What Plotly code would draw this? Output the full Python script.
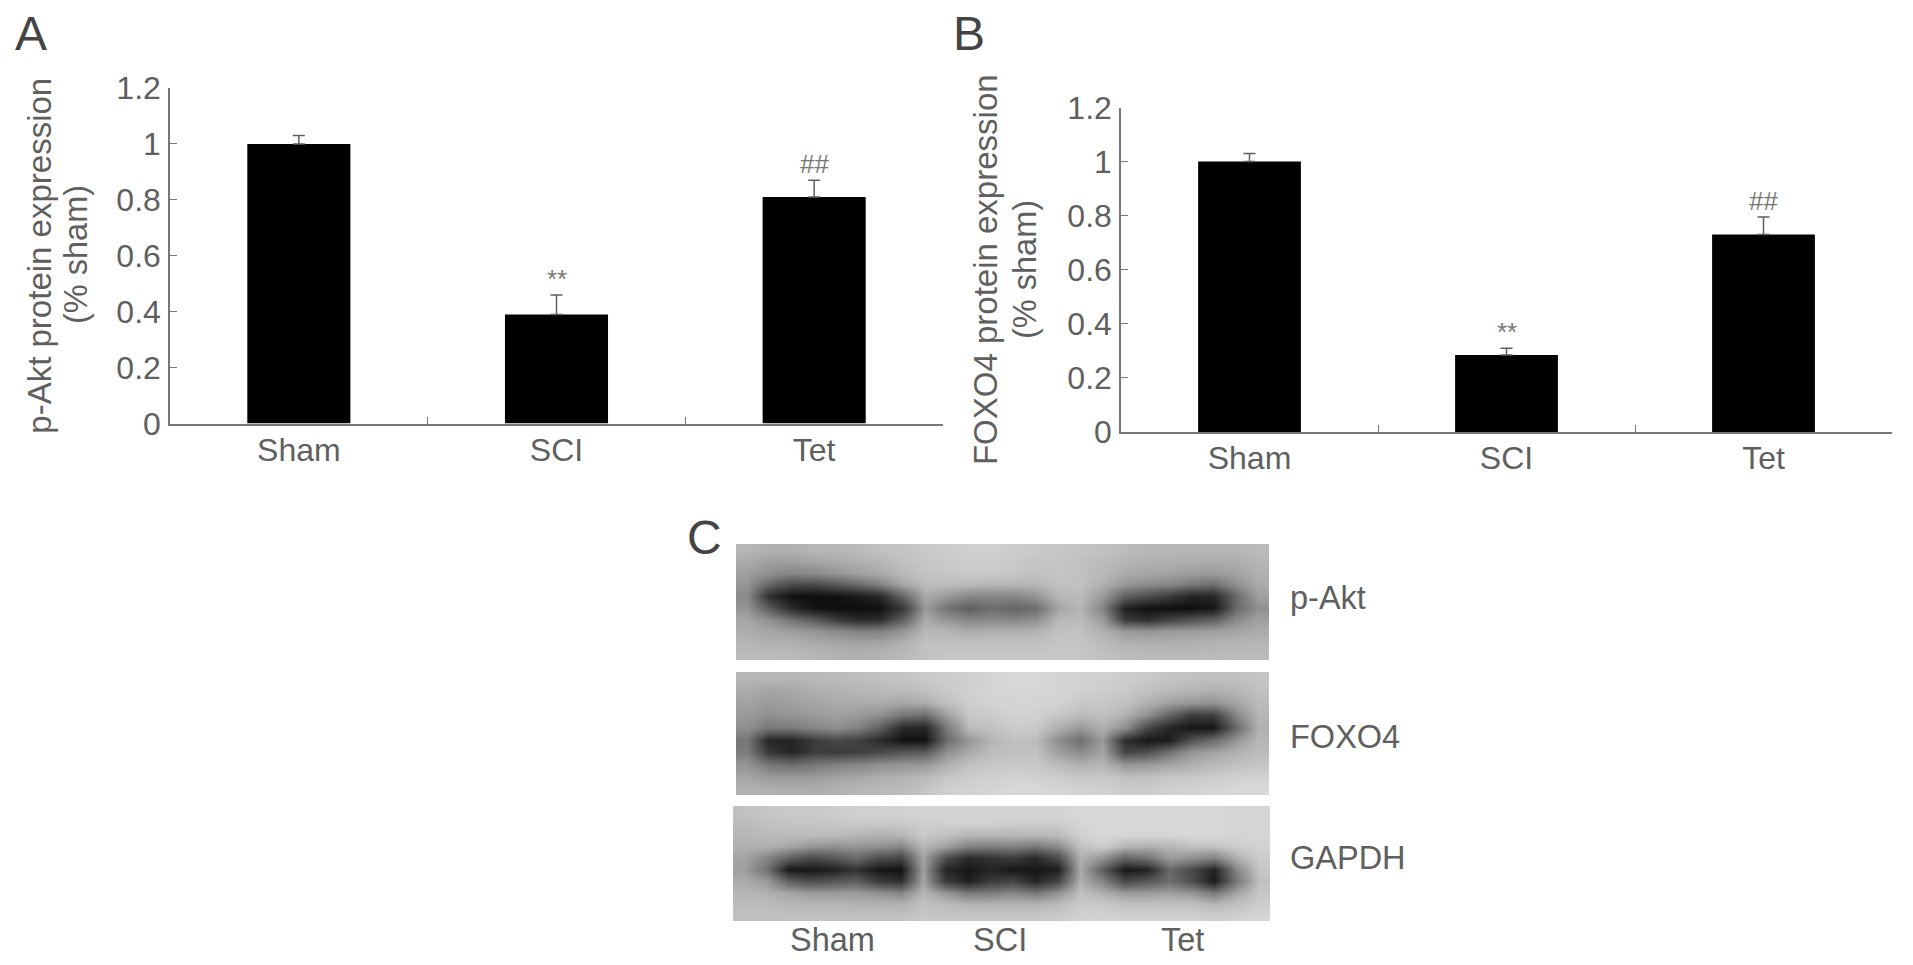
import plotly.graph_objects as go

W = 1913
H = 965
FONT = "Liberation Sans"
GREY = "#5f5f5f"

# Bar data
groups = ["Sham", "SCI", "Tet"]
akt_values = [1.0, 0.39, 0.81]
akt_err = [0.03, 0.07, 0.06]
akt_marks = ["", "**", "##"]
foxo_values = [1.0, 0.285, 0.73]
foxo_err = [0.03, 0.025, 0.065]
foxo_marks = ["", "**", "##"]
y_ticks = [0, 0.2, 0.4, 0.6, 0.8, 1, 1.2]
y_tick_labels = ["0", "0.2", "0.4", "0.6", "0.8", "1", "1.2"]

# Blot grey levels, 10 rows x 24 columns
blot_akt = [
    [195,190,190,195,195,200,205,208,212,215,218,218,215,212,210,208,205,200,195,195,195,195,195,200],
    [185,175,175,180,185,190,195,205,210,212,215,215,212,208,208,205,200,195,190,190,188,186,188,195],
    [175,160,150,155,165,175,185,198,208,210,212,212,210,205,208,205,198,185,180,178,172,170,178,190],
    [165,115,85,85,100,120,145,180,200,200,198,195,195,195,205,205,190,165,155,150,135,125,160,185],
    [155,55,25,20,25,35,50,115,185,170,150,150,150,165,195,200,170,110,90,70,45,45,120,175],
    [165,105,50,25,22,20,25,65,170,130,110,125,115,125,180,195,150,40,25,22,22,30,120,160],
    [180,160,130,105,70,50,55,110,185,165,150,155,150,160,195,200,170,70,55,80,95,110,155,175],
    [188,180,175,165,155,145,145,165,195,195,185,190,190,192,205,205,190,170,165,170,172,175,180,185],
    [195,190,190,185,180,178,180,190,205,205,205,205,205,205,208,208,200,190,190,190,190,192,195,195],
    [200,200,198,195,192,190,192,198,205,210,210,210,210,210,210,210,205,200,198,198,198,198,200,200],
]
blot_foxo = [
    [195,195,195,198,200,202,205,208,212,215,218,222,225,225,222,220,218,215,212,208,205,205,205,208],
    [185,180,182,188,192,195,198,200,205,212,218,222,222,222,222,218,215,212,205,198,195,190,195,205],
    [178,170,175,180,185,185,185,180,185,205,215,220,222,222,220,212,210,205,190,175,165,160,180,200],
    [170,160,165,170,175,170,160,135,125,175,210,215,220,218,210,200,205,190,160,115,70,75,150,195],
    [160,135,140,150,160,145,110,50,45,140,200,205,215,212,190,170,190,160,85,45,30,30,120,190],
    [135,45,45,70,85,75,50,25,25,125,165,195,205,200,160,125,170,55,30,35,95,125,165,195],
    [140,65,45,70,70,75,85,100,105,160,185,200,205,205,175,155,180,80,90,130,165,178,190,200],
    [165,135,125,135,145,150,160,165,170,190,205,210,212,210,200,190,195,165,170,180,190,198,205,208],
    [180,172,170,172,178,182,188,192,198,210,215,218,220,218,215,210,212,205,205,210,212,215,218,220],
    [192,190,188,188,192,195,198,200,208,218,220,222,225,225,222,220,218,215,215,218,220,222,225,225],
]
blot_gapdh = [
    [205,210,212,212,215,218,218,220,222,222,222,222,222,222,222,225,225,225,225,225,225,225,222,222],
    [200,205,208,208,210,212,212,212,215,218,218,218,215,215,215,222,225,225,225,225,225,225,222,222],
    [195,200,200,200,200,195,190,195,212,205,195,195,195,195,200,218,225,222,222,222,225,225,222,222],
    [190,190,180,165,160,165,160,150,195,175,145,140,145,135,155,205,215,195,190,195,205,205,215,220],
    [180,150,110,85,100,120,90,80,180,90,50,60,70,50,85,190,165,115,130,170,160,145,190,215],
    [175,130,30,30,40,60,30,25,175,45,30,45,30,30,35,185,110,30,40,120,85,40,150,210],
    [185,170,110,90,100,110,70,55,180,70,40,70,80,45,80,190,150,85,100,125,90,35,135,205],
    [195,190,180,170,170,170,160,150,195,165,135,140,150,135,160,205,190,170,170,175,165,135,180,210],
    [200,200,195,195,195,192,192,192,205,200,195,192,195,192,200,212,212,205,205,205,205,195,205,215],
    [205,205,205,205,205,205,205,205,210,210,210,210,210,210,212,218,220,218,218,218,218,215,218,222],
]
blot_names = ["p-Akt", "FOXO4", "GAPDH"]


def dom_x(left, right):
    return [left / W, right / W]


def dom_y(top, bottom):
    return [1 - bottom / H, 1 - top / H]


fig = go.Figure()
annotations = []


def label(text, px, py, size=32.5, color=GREY, xanchor="center", angle=0):
    annotations.append(dict(x=px / W, y=1 - py / H, xref="paper", yref="paper", text=text,
                            showarrow=False, xanchor=xanchor, yanchor="middle", textangle=angle,
                            font=dict(family=FONT, size=size, color=color)))


def bar_panel(values, errs, marks, xname, yname, xdom, ydom, title, standoff):
    fig.add_trace(go.Bar(x=groups, y=values, width=0.4, xaxis=xname, yaxis=yname,
                         marker=dict(color="black", line=dict(width=0)),
                         error_y=dict(type="data", symmetric=False, array=errs,
                                      arrayminus=[0, 0, 0], color=GREY,
                                      thickness=1.5, width=6),
                         showlegend=False))
    fig.layout[xname.replace("x", "xaxis")] = dict(
        domain=xdom, anchor=yname, type="category", categoryorder="array",
        categoryarray=groups, range=[-0.5, 2.5], tickson="boundaries", automargin=False,
        ticks="inside", ticklen=7, tickcolor="#777777", tickwidth=1,
        showline=True, linecolor="#777777", linewidth=1.5, showgrid=False,
        ticklabelstandoff=-3, tickfont=dict(family=FONT, size=32, color=GREY))
    fig.layout[yname.replace("y", "yaxis")] = dict(
        domain=ydom, anchor=xname, range=[0, 1.2], tickmode="array", automargin=False,
        tickvals=y_ticks, ticktext=y_tick_labels, ticks="inside", ticklen=7,
        tickcolor="#777777", tickwidth=1, showline=True, linecolor="#777777",
        linewidth=1.5, showgrid=False, zeroline=False, ticklabelstandoff=1,
        tickfont=dict(family=FONT, size=32, color=GREY),
        title=dict(text=title, font=dict(family=FONT, size=33, color=GREY), standoff=standoff))
    for g, v, e, m in zip(groups, values, errs, marks):
        if m:
            annotations.append(dict(x=g, y=v + e, xref=xname, yref=yname, text=m,
                                    showarrow=False, yanchor="bottom", yshift=-1,
                                    font=dict(family=FONT, size=26, color="#777777")))


bar_panel(akt_values, akt_err, akt_marks, "x", "y", dom_x(170, 943), dom_y(88, 423.5),
          "p-Akt protein expression", 55)
bar_panel(foxo_values, foxo_err, foxo_marks, "x2", "y2", dom_x(1121, 1892), dom_y(107.5, 432),
          "FOXO4 protein expression", 60)
label("(% sham)", 76, 255, angle=-90)
label("(% sham)", 1025, 270, angle=-90)

# Western blot strips
blots = [
    (blot_akt, "x3", "y3", 736, 1269, 544, 660),
    (blot_foxo, "x4", "y4", 736, 1269, 672, 795.5),
    (blot_gapdh, "x5", "y5", 733, 1270, 806, 921),
]
for z, xn, yn, left, right, top, bottom in blots:
    fig.add_trace(go.Heatmap(z=z, xaxis=xn, yaxis=yn, zmin=0, zmax=255, zsmooth="best",
                             colorscale="gray", showscale=False))
    fig.layout[xn.replace("x", "xaxis")] = dict(domain=dom_x(left, right), anchor=yn, automargin=False,
                                               range=[-0.5, 23.5], visible=False)
    fig.layout[yn.replace("y", "yaxis")] = dict(domain=dom_y(top, bottom), anchor=xn, automargin=False,
                                               range=[9.5, -0.5], visible=False)

label("A", 13, 34, size=48, color="#444444", xanchor="left")
label("B", 951, 34, size=48, color="#444444", xanchor="left")
label("C", 685, 537, size=48, color="#444444", xanchor="left")

for name, py in zip(blot_names, [598, 737, 858]):
    label(name, 1288, py, xanchor="left")
for name, px in zip(groups, [832, 1000, 1182]):
    label(name, px, 940)

fig.update_layout(width=W, height=H, margin=dict(l=0, r=0, t=0, b=0),
                  paper_bgcolor="white", plot_bgcolor="white",
                  bargap=0.6, annotations=annotations)

# page body has a default margin, drop it so the figure sits at 0,0
fig.write_html("out.html", post_script="document.body.style.margin='0';",
               config={"displayModeBar": False})
